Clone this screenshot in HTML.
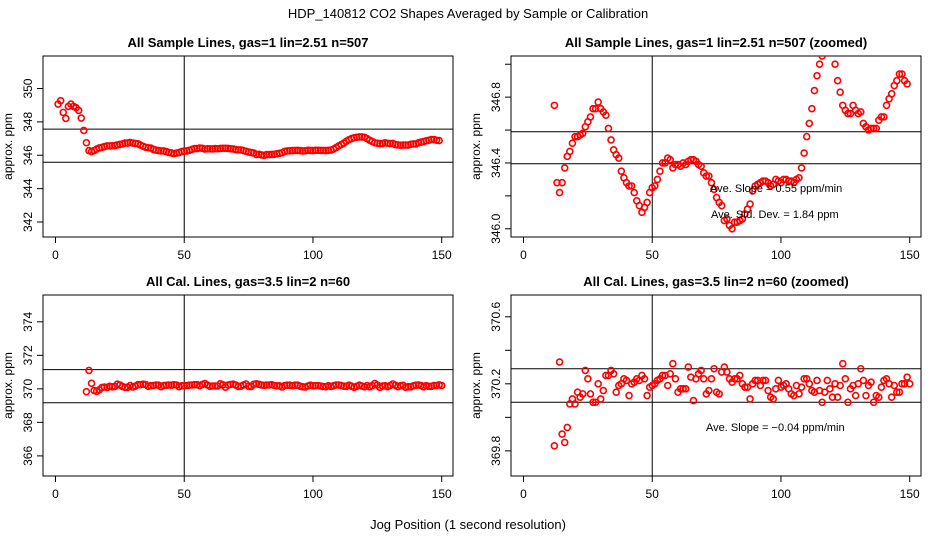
<!DOCTYPE html>
<html><head><meta charset="utf-8"><style>
body{margin:0;background:#fff}
svg{display:block;font-family:"Liberation Sans",sans-serif}
</style></head><body>
<svg id="chart" width="936" height="540" viewBox="0 0 936 540">
<text x="468" y="18" text-anchor="middle" font-size="13">HDP_140812  CO2 Shapes Averaged by Sample or Calibration</text>
<text x="468" y="529" text-anchor="middle" font-size="13">Jog Position (1 second resolution)</text>
</svg>
<script>
const sampleX = [];
for (let i = 1; i <= 149; i++) sampleX.push(i);
const sampleY = [349.07,349.27,348.57,348.21,348.93,349.07,348.93,348.85,348.69,348.23,347.49,
346.75,346.28,346.22,346.28,346.37,346.44,346.47,346.52,346.56,346.56,346.57,346.58,346.62,346.65,346.68,346.73,346.73,346.77,346.73,346.71,346.69,346.61,346.54,346.48,346.45,346.43,346.35,346.31,346.28,346.26,346.26,346.22,346.17,346.14,346.10,346.13,346.16,346.22,346.25,346.26,346.30,346.35,346.40,346.40,346.43,346.42,346.37,346.39,346.39,346.38,346.40,346.39,346.41,346.42,346.42,346.41,346.39,346.38,346.34,346.32,346.32,346.28,346.24,346.19,346.16,346.14,346.05,346.06,346.02,346.00,346.04,346.04,346.05,346.06,346.09,346.12,346.15,346.23,346.26,346.27,346.28,346.29,346.29,346.28,346.26,346.27,346.30,346.29,346.28,346.30,346.30,346.29,346.29,346.28,346.30,346.31,346.37,346.46,346.56,346.64,346.73,346.84,346.93,347.00,347.05,347.08,347.10,347.10,347.08,347.00,346.90,346.83,346.75,346.72,346.70,346.70,346.75,346.72,346.70,346.71,346.64,346.62,346.60,346.61,346.61,346.61,346.66,346.68,346.68,346.75,346.79,346.82,346.87,346.90,346.94,346.94,346.90,346.88];
const calX = [];
for (let i = 12; i <= 150; i++) calX.push(i);
const calY = [369.83,371.10,370.33,369.90,369.85,369.94,370.08,370.11,370.08,370.15,370.12,370.14,370.28,370.23,370.14,370.09,370.09,370.20,370.11,370.16,370.25,370.25,370.28,370.26,370.15,370.19,370.20,370.23,370.22,370.13,370.20,370.21,370.23,370.22,370.25,370.23,370.13,370.18,370.19,370.20,370.22,370.23,370.25,370.25,370.19,370.26,370.32,370.23,370.15,370.17,370.17,370.17,370.30,370.24,370.10,370.23,370.26,370.28,370.23,370.14,370.16,370.23,370.29,370.15,370.14,370.27,370.30,370.27,370.23,370.21,370.23,370.23,370.25,370.20,370.18,370.18,370.11,370.20,370.22,370.22,370.19,370.22,370.22,370.16,370.12,370.11,370.17,370.22,370.18,370.19,370.20,370.17,370.14,370.13,370.19,370.14,370.18,370.23,370.23,370.20,370.16,370.15,370.22,370.16,370.09,370.15,370.22,370.17,370.12,370.20,370.12,370.19,370.32,370.23,370.09,370.17,370.19,370.13,370.20,370.29,370.22,370.13,370.19,370.21,370.09,370.13,370.12,370.18,370.22,370.23,370.20,370.12,370.19,370.15,370.15,370.20,370.20,370.24,370.20];
const xTicks = [0,50,100,150];
const panelTitles = ["All Sample Lines, gas=1 lin=2.51 n=507","All Sample Lines, gas=1 lin=2.51 n=507 (zoomed)","All Cal. Lines, gas=3.5 lin=2 n=60","All Cal. Lines, gas=3.5 lin=2 n=60 (zoomed)"];
const tl = {yTicks:[342,344,346,348,350], yLabels:[342,344,346,348,350], yMin:341.1, yMax:351.95, hlines:[347.57,345.58]};
const tr = {yTicks:[346.0,346.2,346.4,346.6,346.8,347.0], yLabels:["346.0","346.4","346.8"], yMin:345.95, yMax:347.05, hlines:[346.59,346.395]};
const bl = {yTicks:[366,368,370,372,374], yLabels:[366,368,370,372,374], yMin:364.8, yMax:375.6, hlines:[371.15,369.17]};
const br = {yTicks:[369.8,370.0,370.2,370.4,370.6], yLabels:["369.8","370.2","370.6"], yMin:369.65, yMax:370.73, hlines:[370.29,370.09]};
const svg = document.getElementById('chart');
const NS = 'http://www.w3.org/2000/svg';
function mk(tag, attrs, parent){const e=document.createElementNS(NS,tag);for(const k in attrs)e.setAttribute(k,attrs[k]);(parent||svg).appendChild(e);return e;}
function panel(idx, L, T, R, B, cfg, xs, ys, name){
  const g = mk('g',{});
  
  
  const x0 = L + 12.5, x150 = L + 398.7;
  const sx = v => x0 + (x150 - x0) * (v / 150);
  const sy = v => B - (v - cfg.yMin) / (cfg.yMax - cfg.yMin) * (B - T);
  const t = mk('text',{x:(L+R)/2, y:T-9, 'text-anchor':'middle','font-size':13,'font-weight':'bold'},g);
  t.textContent = panelTitles[idx];
  
  
  const box = mk('rect',{x:L,y:T,width:R-L,height:B-T,fill:'none',stroke:'#000','stroke-width':1},g);
  
  
  xTicks.forEach(v=>{
    mk('line',{x1:sx(v),x2:sx(v),y1:B,y2:B+6,stroke:'#000'},g);
    const lb = mk('text',{x:sx(v),y:B+22,'text-anchor':'middle','font-size':12},g);
    lb.textContent = v;
    
    
  });
  cfg.yTicks.forEach(v=>{ mk('line',{x1:L-6,x2:L,y1:sy(v),y2:sy(v),stroke:'#000'},g); });
  cfg.yLabels.forEach(v=>{
    const yy = sy(parseFloat(v));
    const lb = mk('text',{x:0,y:0,'text-anchor':'middle','font-size':12,transform:`translate(${L-11},${yy}) rotate(-90)`},g);
    lb.textContent = v;
    
    
  });
  const yt = mk('text',{x:0,y:0,'text-anchor':'middle','font-size':12,transform:`translate(${L-31},${(T+B)/2}) rotate(-90)`},g);
  yt.textContent = 'approx. ppm';
  
  
  const clipId = 'c'+idx;
  const cp = mk('clipPath',{id:clipId},g);
  mk('rect',{x:L,y:T,width:R-L,height:B-T},cp);
  const vl = mk('line',{x1:sx(50),x2:sx(50),y1:T,y2:B,stroke:'#000'},g);
  
  
  cfg.hlines.forEach(h=>{
    const hl = mk('line',{x1:L,x2:R,y1:sy(h),y2:sy(h),stroke:'#000'},g);
    
    
  });
  const pg = mk('g',{'clip-path':`url(#${clipId})`},g);
  xs.forEach((xv,i)=>{
    const c = mk('circle',{cx:sx(xv),cy:sy(ys[i]),r:3,fill:'none',stroke:'#ff0000','stroke-width':1.6},pg);
    
    
  });
  return g;
}
panel(0, 43, 56, 453, 237, tl, sampleX, sampleY, 'panel-sample');
const g1 = panel(1, 511, 56, 921, 237, tr, sampleX.slice(11), sampleY.slice(11), 'panel-sample-zoomed');
panel(2, 43, 295, 453, 476, bl, calX, calY, 'panel-cal');
const g3 = panel(3, 511, 295, 921, 476, br, calX, calY, 'panel-cal-zoomed');
function note(g, x, y, s){
  const t = mk('text',{x:x,y:y,'font-size':11},g);
  t.textContent = s;
  
  
}
note(g1, 710, 192, 'Ave. Slope =  0.55  ppm/min');
note(g1, 711, 218, 'Ave. Std. Dev. =  1.84  ppm');
note(g3, 706, 431, 'Ave. Slope =  \u22120.04  ppm/min');
</script>
</body></html>
